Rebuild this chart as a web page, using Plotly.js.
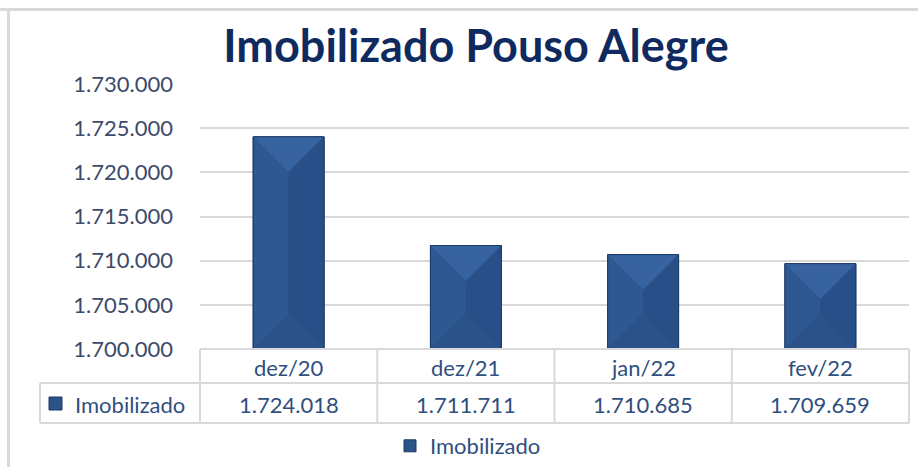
<!DOCTYPE html>
<html>
<head>
<meta charset="utf-8">
<script src="https://cdn.plot.ly/plotly-3.0.1.min.js"></script>
<style>
html,body{margin:0;padding:0;background:#fff;}
#chart{width:918px;height:467px;}
</style>
</head>
<body>
<div id="chart"></div>
<script>
// ---- data ----
const categories = ["dez/20", "dez/21", "jan/22", "fev/22"];
const values = [1724018, 1711711, 1710685, 1709659];
const seriesName = "Imobilizado";
const chartTitle = "Imobilizado Pouso Alegre";
const yTickVals = [1700000, 1705000, 1710000, 1715000, 1720000, 1725000, 1730000];

// ---- layout geometry (pixels) ----
const W = 918, H = 467;
const L = 200, R = 909, T = 84, B = 349;
const PW = R - L, PH = B - T;
const yMin = 1700000, yMax = 1730000;
const barW = 0.4;
const px2x = px => (px - L) / PW;
const px2y = py => (B - py) / PH;

function fmt(n) {
  return String(Math.round(n)).replace(/\B(?=(\d{3})+(?!\d))/g, ".");
}

const FONT = "Lato, 'Open Sans', sans-serif";
const tickColor = "#3c4a6b";
const tblColor = "#2f4f80";
const gridColor = "#d9d9d9";

const xs = categories.map((c, i) => i);

const shapes = [];
const annotations = [];

// bevel facets on bars (computed from data)
const unitsPerPxY = (yMax - yMin) / PH;
const pxPerUnitX = PW / categories.length;
values.forEach((v, i) => {
  const l = i - barW / 2, r = i + barW / 2, b = yMin;
  const dy = (barW / 2) * pxPerUnitX * unitsPerPxY;
  const facets = [
    [`M${l},${v} L${r},${v} L${i},${v - dy} Z`, "#3764a0"],
    [`M${l},${v} L${i},${v - dy} L${i},${b + dy} L${l},${b} Z`, "#2d5891"],
    [`M${r},${v} L${i},${v - dy} L${i},${b + dy} L${r},${b} Z`, "#284f87"],
    [`M${l},${b} L${r},${b} L${i},${b + dy} Z`, "#2b5389"]
  ];
  facets.forEach(f => shapes.push({type: "path", xref: "x", yref: "y", path: f[0],
    fillcolor: f[1], line: {width: 0}, layer: "above"}));
  shapes.push({type: "rect", xref: "x", yref: "y", x0: l, x1: r, y0: b, y1: v,
    line: {color: "#1d3a66", width: 1}, fillcolor: "rgba(0,0,0,0)", layer: "above"});
});

// data table lines
const tLine = {color: gridColor, width: 2};
const row1Top = 349, row2Top = 383, row2Bot = 423, rowLabelLeft = 40;
shapes.push({type: "line", xref: "paper", yref: "paper", x0: 0, x1: 1, y0: px2y(row1Top), y1: px2y(row1Top), line: tLine});
shapes.push({type: "line", xref: "paper", yref: "paper", x0: px2x(rowLabelLeft), x1: 1, y0: px2y(row2Top), y1: px2y(row2Top), line: tLine});
shapes.push({type: "line", xref: "paper", yref: "paper", x0: px2x(rowLabelLeft), x1: 1, y0: px2y(row2Bot), y1: px2y(row2Bot), line: tLine});
shapes.push({type: "line", xref: "paper", yref: "paper", x0: px2x(rowLabelLeft), x1: px2x(rowLabelLeft), y0: px2y(row2Top), y1: px2y(row2Bot), line: tLine});
for (let k = 0; k <= categories.length; k++) {
  const xp = k / categories.length;
  shapes.push({type: "line", xref: "paper", yref: "paper", x0: xp, x1: xp, y0: px2y(row1Top), y1: px2y(row2Bot), line: tLine});
}
categories.forEach((c, i) => {
  annotations.push({xref: "x", yref: "paper", x: i, y: px2y((row1Top + row2Top) / 2 + 1), text: c,
    showarrow: false, xanchor: "center", yanchor: "middle", font: {family: FONT, size: 22, color: tblColor}});
  annotations.push({xref: "x", yref: "paper", x: i, y: px2y((row2Top + row2Bot) / 2 + 1), text: fmt(values[i]),
    showarrow: false, xanchor: "center", yanchor: "middle", font: {family: FONT, size: 22, color: tblColor}});
});
// row label + key
shapes.push({type: "rect", xref: "paper", yref: "paper", x0: px2x(49), x1: px2x(62), y0: px2y(410), y1: px2y(397),
  fillcolor: "#2c5387", line: {color: "#1d3a66", width: 1}});
annotations.push({xref: "paper", yref: "paper", x: px2x(73), y: px2y(404), text: seriesName,
  showarrow: false, xanchor: "left", yanchor: "middle", font: {family: FONT, size: 22, color: tblColor}});

// outer frame
shapes.push({type: "line", xref: "paper", yref: "paper", x0: px2x(0), x1: px2x(W), y0: px2y(9.5), y1: px2y(9.5), line: {color: "#d9d9d9", width: 3}});
shapes.push({type: "line", xref: "paper", yref: "paper", x0: px2x(8.5), x1: px2x(8.5), y0: px2y(8), y1: px2y(H), line: {color: "#d9d9d9", width: 3}});

const trace = {
  type: "bar",
  x: xs,
  y: values,
  name: seriesName,
  width: barW,
  marker: {color: "#2c5387", line: {color: "#1d3a66", width: 1}},
  showlegend: true,
  hoverinfo: "skip"
};

const layout = {
  width: W, height: H,
  margin: {l: L, r: W - R, t: T, b: H - B, pad: 0, autoexpand: false},
  paper_bgcolor: "#fff", plot_bgcolor: "#fff",
  separators: ",.",
  font: {family: FONT, color: tickColor},
  title: {text: "<b>" + chartTitle + "</b>", xref: "container", yref: "container",
    x: 476 / W, y: 1 - 46 / H, xanchor: "center", yanchor: "middle",
    font: {family: FONT, size: 45, color: "#0f2a5e"}},
  xaxis: {range: [-0.5, categories.length - 0.5], showticklabels: false, showgrid: false,
    zeroline: false, ticks: "", fixedrange: true},
  yaxis: {range: [yMin, yMax], tickvals: yTickVals, tickformat: ",d", showgrid: true,
    gridcolor: gridColor, gridwidth: 2, zeroline: false, ticks: "", ticklabelstandoff: 26,
    tickfont: {family: FONT, size: 22, color: tickColor}, fixedrange: true},
  showlegend: true,
  legend: {orientation: "h", x: px2x(390), y: px2y(446), xanchor: "left", yanchor: "middle",
    font: {family: FONT, size: 22, color: tblColor}, bgcolor: "rgba(0,0,0,0)"},
  shapes: shapes,
  annotations: annotations,
  bargap: 0.6
};

Plotly.newPlot("chart", [trace], layout, {displayModeBar: false, staticPlot: true});
</script>
</body>
</html>
